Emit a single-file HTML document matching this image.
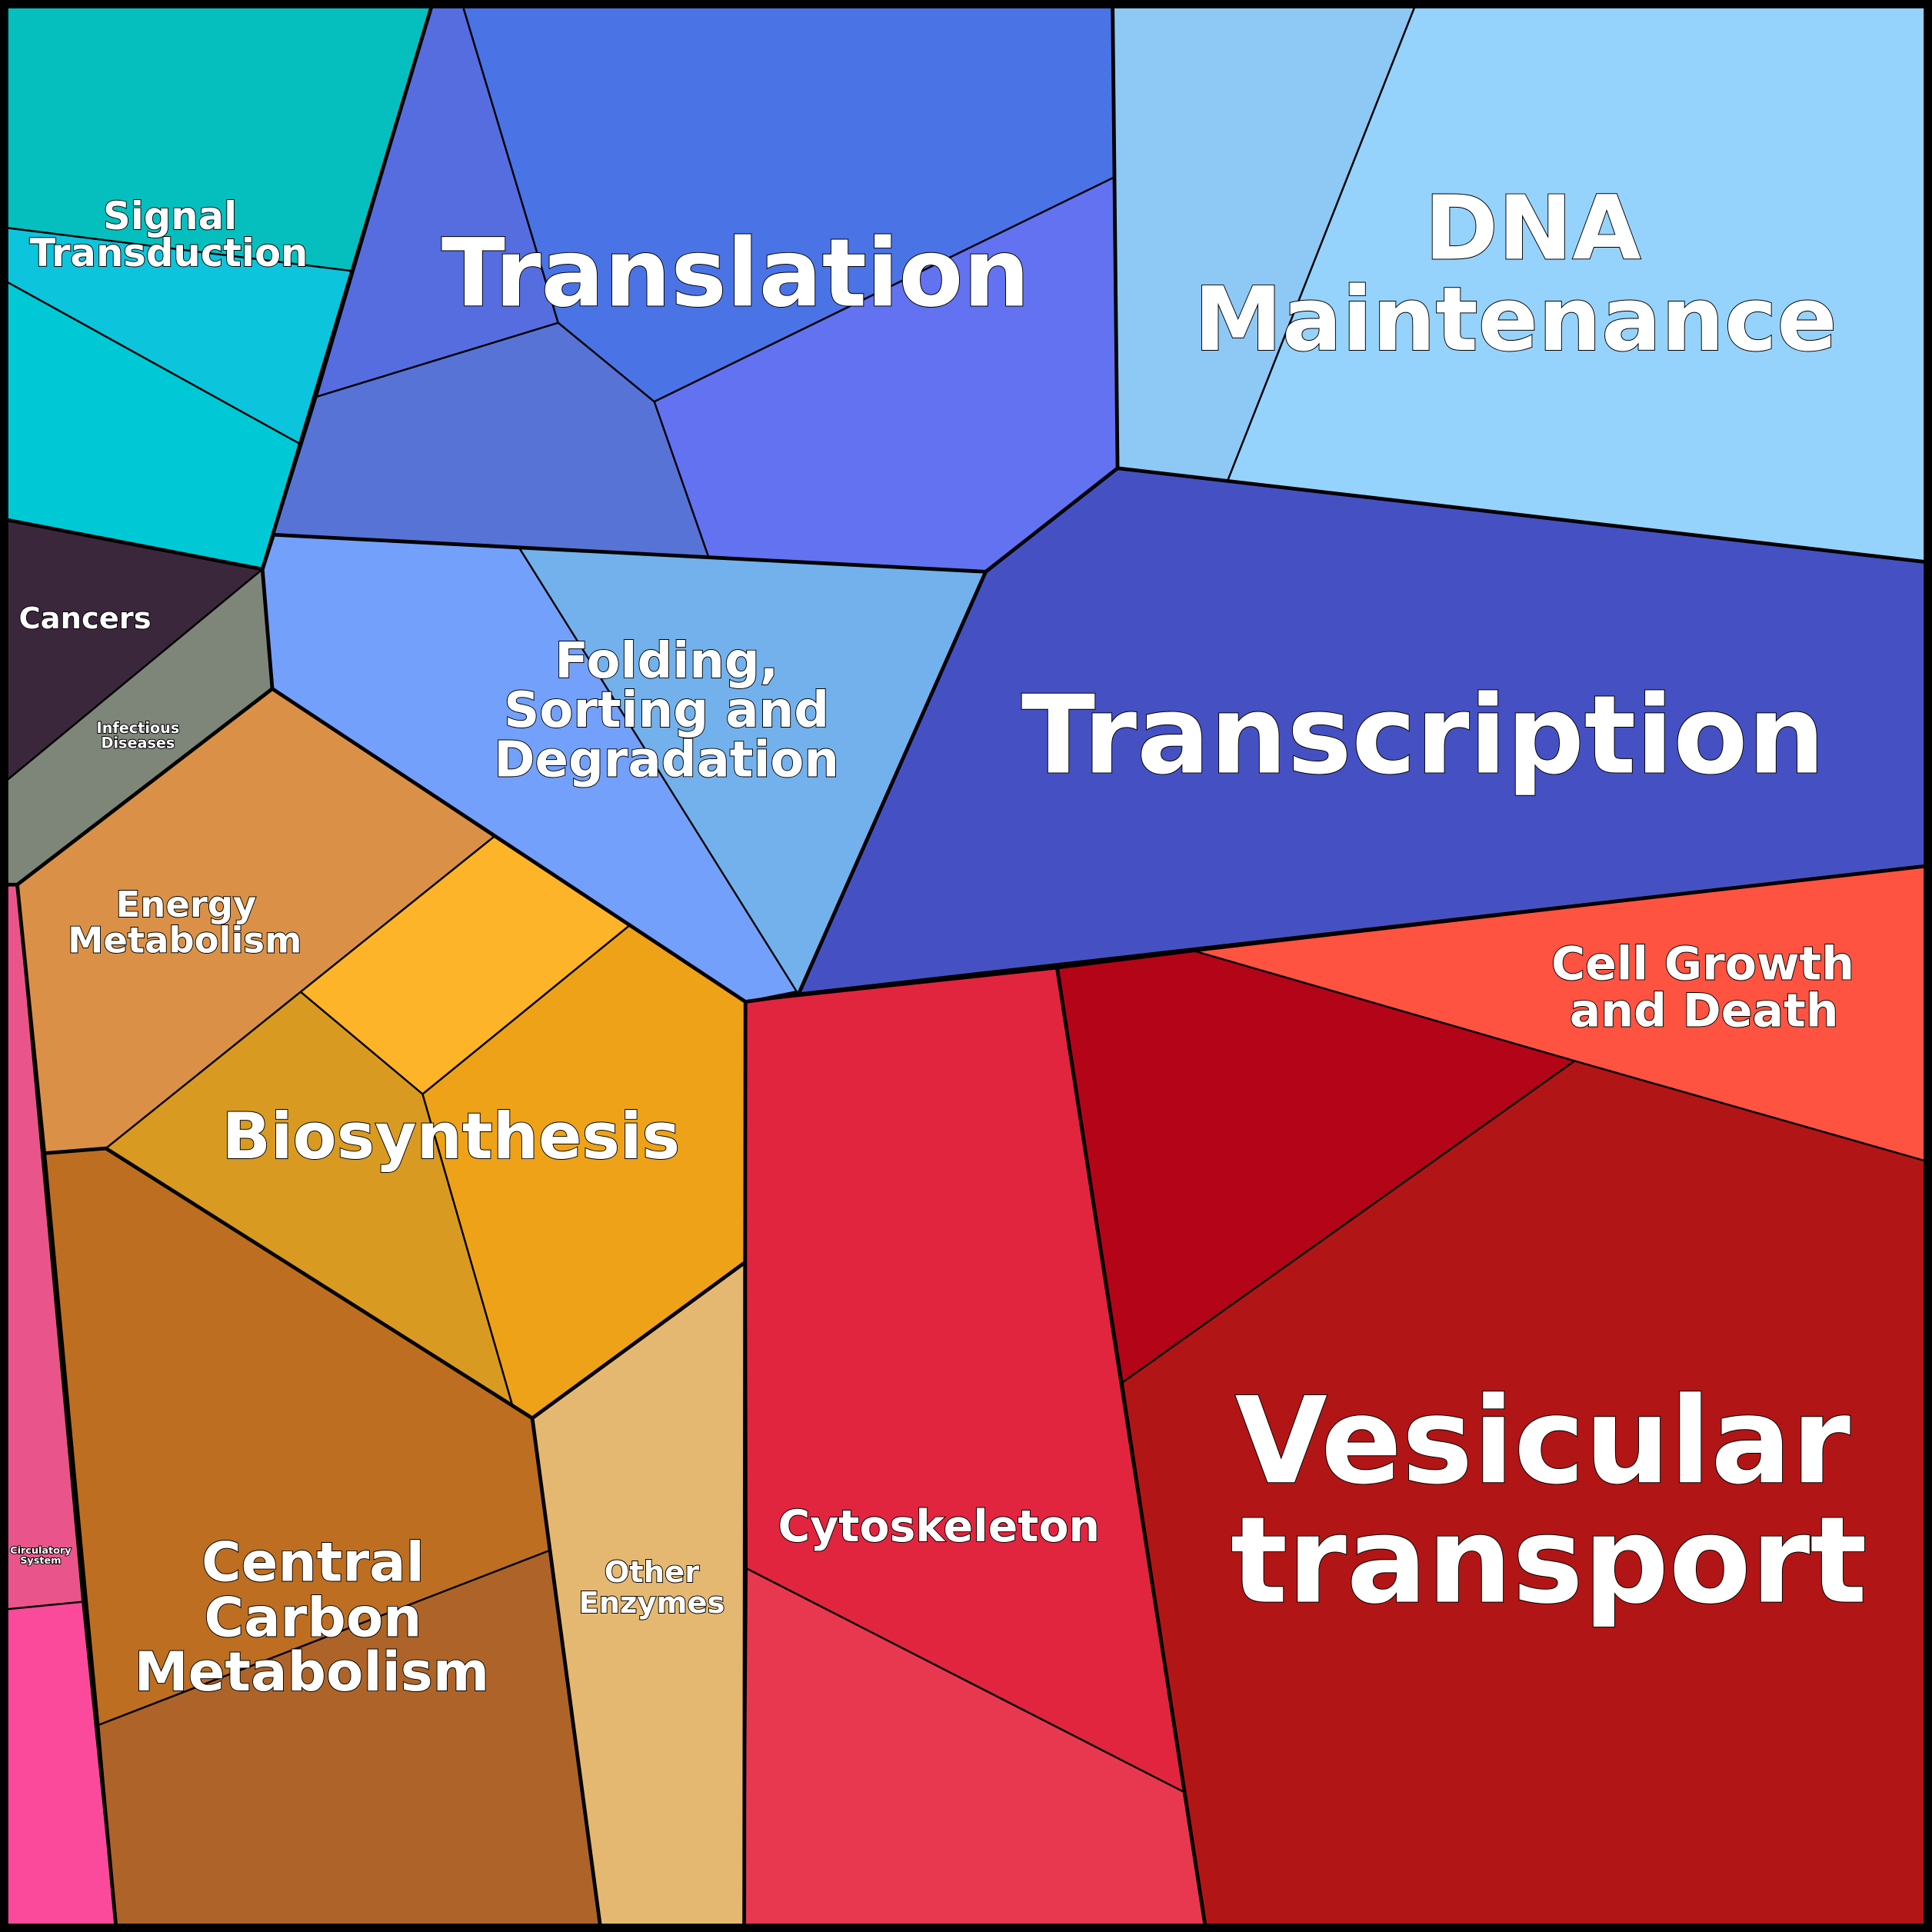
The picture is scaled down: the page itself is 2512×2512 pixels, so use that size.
<!DOCTYPE html>
<html><head><meta charset="utf-8"><style>
html,body{margin:0;padding:0;background:#000;}
svg{display:block;}
text{font-family:"DejaVu Sans","Liberation Sans",sans-serif;font-weight:bold;fill:#fff;stroke:#000;stroke-width:1.2;paint-order:stroke;text-anchor:middle;}
</style></head><body>
<svg width="2512" height="2512" viewBox="0 0 1568 1568" xmlns="http://www.w3.org/2000/svg">
<rect x="0" y="0" width="1568" height="1568" fill="#000"/>
<g stroke="#000" stroke-width="1.5" stroke-linejoin="round">
<polygon points="6,6 350,6 286,220 6,185" fill="#05bfbf"/>
<polygon points="6,185 286,220 243,360 6,229" fill="#0cc4dc"/>
<polygon points="6,229 243,360 213,462 6,422" fill="#00c9d6"/>
<polygon points="350,6 376,6 453,262 257,322" fill="#566de0"/>
<polygon points="376,6 903,6 904,144 531,326 453,262" fill="#4a73e6"/>
<polygon points="904,144 907,380 800,464 575,452 531,326" fill="#6272f0"/>
<polygon points="257,322 453,262 531,326 575,452 222,434" fill="#5873d6"/>
<polygon points="903,6 1148,6 996,391 907,380" fill="#8ec8f4"/>
<polygon points="1148,6 1562,6 1562,456 996,391" fill="#95d3fd"/>
<polygon points="907,380 1562,456 1562,703 648,807 800,464" fill="#4551c2"/>
<polygon points="222,434 421,444 650,804 605,813 221,559 213,462" fill="#73a0fb"/>
<polygon points="421,444 800,464 648,807" fill="#72b1ec"/>
<polygon points="6,422 213,462 6,633" fill="#3b273b"/>
<polygon points="213,462 221,559 14,718 6,718 6,633" fill="#7e8579"/>
<polygon points="14,718 221,559 401,679 244,805 86,932 36,936" fill="#da9147"/>
<polygon points="401,679 511,751 343,888 244,805" fill="#fdb428"/>
<polygon points="244,805 343,888 416,1141 86,932" fill="#d99a22"/>
<polygon points="511,751 605,813 604,1025 432,1151 416,1141 343,888" fill="#eea218"/>
<polygon points="36,936 86,932 432,1151 447,1258 80,1400" fill="#bd6e21"/>
<polygon points="80,1400 447,1258 487,1562 94,1562" fill="#ae6428"/>
<polygon points="432,1151 604,1025 604,1562 487,1562" fill="#e5b872"/>
<polygon points="6,718 14,718 67,1300 6,1306" fill="#e9558a"/>
<polygon points="6,1306 67,1300 94,1562 6,1562" fill="#fb4a9c"/>
<polygon points="605,813 858,786 962,1455 606,1273" fill="#e1253f"/>
<polygon points="606,1273 962,1455 978,1562 604,1562" fill="#e83850"/>
<polygon points="858,786 970,772 1278,861 911,1122" fill="#b30418"/>
<polygon points="911,1122 1278,861 1562,942 1562,1562 978,1562" fill="#b21515"/>
<polygon points="970,772 1562,703 1562,942 1278,861" fill="#fe5340"/>
</g>
<g fill="none" stroke="#000" stroke-width="3" stroke-linejoin="round">
<polyline points="350,6 213,462 6,422"/>
<polyline points="213,462 222,434 800,464 907,380 903,6"/>
<polyline points="907,380 1562,456"/>
<polyline points="800,464 648,807 1562,703"/>
<polyline points="213,462 221,559 605,813 648,807"/>
<polyline points="221,559 14,718 6,718"/>
<polyline points="14,718 36,936 94,1562"/>
<polyline points="36,936 86,932 432,1151 604,1025"/>
<polyline points="432,1151 487,1562"/>
<polyline points="605,813 604,1562"/>
<polyline points="858,786 978,1562"/>
<rect x="3" y="3" width="1562" height="1562" stroke-width="7"/>
</g>
<text x="597" y="248" font-size="76">Translation</text>
<text x="1244" y="210" font-size="72">DNA</text>
<text x="1230" y="284" font-size="72">Maintenance</text>
<text x="1155" y="627" font-size="88">Transcription</text>
<text x="1252" y="1203" font-size="97">Vesicular</text>
<text x="1257" y="1300" font-size="97">transport</text>
<text x="366" y="940" font-size="52">Biosynthesis</text>
<text x="138" y="186" font-size="31">Signal</text>
<text x="137" y="216" font-size="31">Transduction</text>
<text x="541" y="550" font-size="40">Folding,</text>
<text x="541" y="590" font-size="40">Sorting and</text>
<text x="541" y="630" font-size="40">Degradation</text>
<text x="1382" y="795" font-size="37.5">Cell Growth</text>
<text x="1383" y="833" font-size="37.5">and Death</text>
<text x="151" y="744" font-size="29">Energy</text>
<text x="150" y="773" font-size="29">Metabolism</text>
<text x="254" y="1283" font-size="44">Central</text>
<text x="254" y="1328" font-size="44">Carbon</text>
<text x="253" y="1372" font-size="44">Metabolism</text>
<text x="762" y="1251" font-size="35.5">Cytoskeleton</text>
<text x="529" y="1284" font-size="24">Other</text>
<text x="529" y="1309" font-size="24">Enzymes</text>
<text x="69" y="510" font-size="24">Cancers</text>
<text x="112" y="595" font-size="12" stroke-width="0.6">Infectious</text>
<text x="112" y="607" font-size="12" stroke-width="0.6">Diseases</text>
<text x="33" y="1261" font-size="8" stroke-width="0.4">Circulatory</text>
<text x="33" y="1269" font-size="8" stroke-width="0.4">System</text>
</svg>
</body></html>
